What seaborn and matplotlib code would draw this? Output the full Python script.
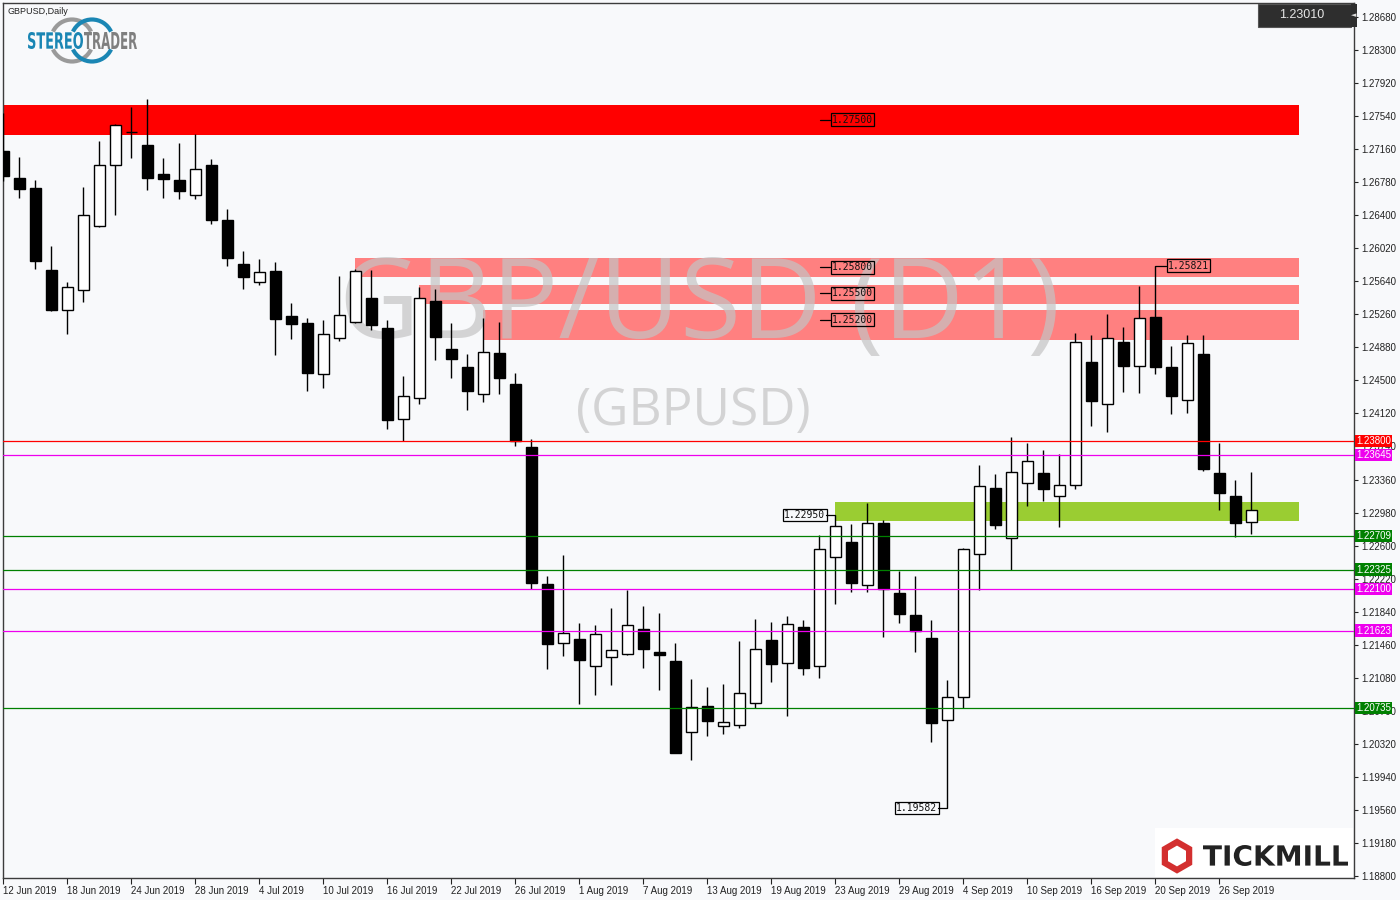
import numpy as np
import pandas as pd
import matplotlib
matplotlib.use("Agg")
import matplotlib.pyplot as plt
import matplotlib.transforms as mtransforms
from matplotlib.patches import Rectangle, Arc, RegularPolygon, PathPatch
from matplotlib.textpath import TextPath
from matplotlib.font_manager import FontProperties
import seaborn as sns

# GBPUSD daily candles, 12 Jun 2019 .. 30 Sep 2019
first_day = "2019-06-12"
opens = [1.27139, 1.26825, 1.26710, 1.25767, 1.25307, 1.25537, 1.26273, 1.26975, 1.27363, 1.27208,
         1.26874, 1.26805, 1.26630, 1.26975, 1.26345, 1.25840, 1.25636, 1.25759, 1.25241, 1.25161,
         1.24571, 1.24985, 1.25169, 1.25445, 1.25100, 1.24054, 1.24295, 1.25414, 1.24862, 1.24655,
         1.24341, 1.24816, 1.24459, 1.23738, 1.22159, 1.21478, 1.21527, 1.21220, 1.21323, 1.21358,
         1.21642, 1.21377, 1.21274, 1.20454, 1.20756, 1.20523, 1.20535, 1.20794, 1.21515, 1.21254,
         1.21665, 1.21213, 1.22467, 1.22642, 1.22145, 1.22861, 1.22056, 1.21803, 1.21538, 1.20592,
         1.20857, 1.22501, 1.23263, 1.22688, 1.23324, 1.23436, 1.23168, 1.23295, 1.24709, 1.24226,
         1.24939, 1.24663, 1.25227, 1.24652, 1.24272, 1.24801, 1.23433, 1.23168, 1.22876]
highs = [1.27576, 1.27070, 1.26805, 1.26046, 1.25632, 1.26725, 1.27254, 1.27450, 1.27642, 1.27737,
         1.27058, 1.27231, 1.27334, 1.27044, 1.26472, 1.25989, 1.25897, 1.25862, 1.25391, 1.25218,
         1.25195, 1.25701, 1.25779, 1.25770, 1.25195, 1.24551, 1.25578, 1.25552, 1.25161, 1.24804,
         1.25218, 1.25172, 1.24586, 1.23827, 1.22251, 1.22493, 1.21714, 1.21688, 1.21883, 1.22094,
         1.21906, 1.21826, 1.21481, 1.21070, 1.20975, 1.21009, 1.21507, 1.21757, 1.21722, 1.21795,
         1.21742, 1.22720, 1.22950, 1.22849, 1.23091, 1.22895, 1.22312, 1.22251, 1.21745, 1.21055,
         1.22573, 1.23528, 1.23424, 1.23850, 1.23784, 1.23700, 1.23654, 1.25046, 1.25023, 1.25264,
         1.25115, 1.25586, 1.25821, 1.24893, 1.25023, 1.25023, 1.23784, 1.23359, 1.23447]
lows = [1.26794, 1.26602, 1.25785, 1.25302, 1.25038, 1.25406, 1.26265, 1.26406, 1.27062, 1.26694,
        1.26602, 1.26590, 1.26590, 1.26303, 1.25820, 1.25555, 1.25601, 1.24796, 1.24980, 1.24382,
        1.24417, 1.24957, 1.25160, 1.25080, 1.23945, 1.23804, 1.24226, 1.24739, 1.24532, 1.24164,
        1.24256, 1.24348, 1.23741, 1.22102, 1.21185, 1.21335, 1.20783, 1.20886, 1.21001, 1.21346,
        1.21197, 1.20944, 1.20210, 1.20139, 1.20415, 1.20438, 1.20500, 1.20737, 1.21036, 1.20638,
        1.21116, 1.21082, 1.21933, 1.22071, 1.22071, 1.21553, 1.21714, 1.21381, 1.20346, 1.19582,
        1.20730, 1.22087, 1.22789, 1.22320, 1.23060, 1.23117, 1.22818, 1.23255, 1.23980, 1.23911,
        1.24371, 1.24359, 1.24578, 1.24118, 1.24129, 1.23462, 1.23014, 1.22703, 1.22738]
closes = [1.26855, 1.26705, 1.25877, 1.25310, 1.25572, 1.26400, 1.26975, 1.27435, 1.27352, 1.26832,
          1.26820, 1.26682, 1.26929, 1.26349, 1.25912, 1.25693, 1.25744, 1.25210, 1.25153, 1.24589,
          1.25031, 1.25250, 1.25756, 1.25141, 1.24049, 1.24321, 1.25445, 1.25003, 1.24750, 1.24382,
          1.24824, 1.24532, 1.23807, 1.22174, 1.21473, 1.21596, 1.21289, 1.21584, 1.21400, 1.21688,
          1.21412, 1.21340, 1.20219, 1.20745, 1.20587, 1.20572, 1.20903, 1.21409, 1.21243, 1.21696,
          1.21197, 1.22559, 1.22823, 1.22174, 1.22858, 1.22105, 1.21818, 1.21619, 1.20564, 1.20857,
          1.22559, 1.23283, 1.22841, 1.23444, 1.23570, 1.23255, 1.23295, 1.24939, 1.24267, 1.24985,
          1.24670, 1.25215, 1.24658, 1.24325, 1.24928, 1.23485, 1.23209, 1.22864, 1.23010]

# zones (price ranges) and the candle index where they start / end
strong_zone = [1.27323, 1.27668]
weak_zone_low = [1.25693, 1.25383, 1.24961]
weak_zone_high = [1.25908, 1.25598, 1.25314]
weak_zone_from = [22, 26, 30]
weak_zone_labels = [1.25800, 1.25500, 1.25200]
strong_zone_label = 1.27500
support_zone = [1.22884, 1.23100]
support_zone_from = 52
zone_end = 81

level_prices = [1.23800, 1.23645, 1.22709, 1.22325, 1.22100, 1.21623, 1.20735]
level_colors = ["#ff0000", "#ee00ee", "#008000", "#008000", "#ee00ee", "#ee00ee", "#008000"]

y_ticks = [1.28680, 1.28300, 1.27920, 1.27540, 1.27160, 1.26780, 1.26400, 1.26020, 1.25640,
           1.25260, 1.24880, 1.24500, 1.24120, 1.23740, 1.23360, 1.22980, 1.22600, 1.22220,
           1.21840, 1.21460, 1.21080, 1.20700, 1.20320, 1.19940, 1.19560, 1.19180, 1.18800]
last_price = 1.23010

sns.set_style("white")
plt.rcParams["font.family"] = ["Liberation Sans", "DejaVu Sans"]

bg = "#f8f9fb"
W, H = 1400, 900

df = pd.DataFrame({
    "date": pd.bdate_range(first_day, periods=len(opens)),
    "open": opens, "high": highs, "low": lows, "close": closes,
})
df["pos"] = np.arange(len(df))
df["up"] = df["close"] > df["open"]

fig = plt.figure(figsize=(14, 9), dpi=100, facecolor=bg)
ax = fig.add_axes([3 / W, 1 - 878 / H, 1351 / W, 875 / H])
ax.set_facecolor(bg)
ax.set_xlim(-0.02, 84.42)
ax.set_ylim(1.18777, 1.28841)

# zones
ax.fill_between([-1, zone_end], strong_zone[0], strong_zone[1], color="#ff0000", lw=0, zorder=1)
for lo, hi, x0 in zip(weak_zone_low, weak_zone_high, weak_zone_from):
    ax.fill_between([x0, zone_end], lo, hi, color="#ff8080", lw=0, zorder=1)
ax.fill_between([support_zone_from, zone_end], support_zone[0], support_zone[1],
                color="#9acd32", lw=0, zorder=1)

# watermark
ax.text(700 / W, 1 - 338 / H, "GBP/USD (D1)", transform=fig.transFigure, ha="center",
        va="baseline", fontsize=80, family="Open Sans", color="#c4c4c4", alpha=0.7, zorder=1.5)
ax.text(693 / W, 1 - 425 / H, "(GBPUSD)", transform=fig.transFigure, ha="center",
        va="baseline", fontsize=37, family="Open Sans", color="#c4c4c4", alpha=0.7, zorder=1.5)

# candles
ax.vlines(df["pos"], df["low"], df["high"], color="black", lw=1.0, zorder=3)
body = (df["close"] - df["open"]).abs().clip(lower=0.00006)
ax.bar(df["pos"], body, bottom=df[["open", "close"]].min(axis=1), width=0.66,
       color=np.where(df["up"], "white", "black"), edgecolor="black", linewidth=1.0, zorder=4)

# horizontal levels and axis tags
tag_tr = mtransforms.blended_transform_factory(ax.transAxes, ax.transData)
for p, c in zip(level_prices, level_colors):
    ax.axhline(p, color=c, lw=0.9, zorder=5)
    ax.text(1.0015, p, f"{p:.5f}", transform=tag_tr, ha="left", va="center", fontsize=7,
            color="white", zorder=10, clip_on=False,
            bbox=dict(boxstyle="square,pad=0.12", fc=c, ec="none"))


def price_box(x, y, text, ha):
    ax.text(x, y, text, ha=ha, va="center", fontsize=7, family="DejaVu Sans Mono", zorder=7,
            color="#111111", bbox=dict(boxstyle="square,pad=0.12", fc="none", ec="black", lw=0.9))


def leader(x0, x1, y):
    ax.plot([x0, x1], [y, y], color="black", lw=0.9, zorder=6)


for p in [strong_zone_label] + weak_zone_labels:
    leader(51.05, 51.7, p)
    price_box(51.78, p, f"{p:.5f}", "left")

leader(51.45, 52, highs[52])
price_box(51.38, highs[52], f"{highs[52]:.5f}", "right")
leader(58.45, 59, lows[59])
price_box(58.38, lows[59], f"{lows[59]:.5f}", "right")
leader(72, 72.7, highs[72])
price_box(72.78, highs[72], f"{highs[72]:.5f}", "left")

# axes styling
ax.yaxis.tick_right()
ax.set_yticks(y_ticks)
ax.set_yticklabels([f"{t:.5f}" for t in y_ticks])
ticks = df.iloc[::4]
ax.set_xticks(ticks["pos"])
ax.set_xticklabels([f"{d.day} {d:%b %Y}" for d in ticks["date"]])
for lab in ax.get_xticklabels():
    lab.set_ha("left")
ax.tick_params(axis="y", direction="out", length=3, width=0.8, labelsize=7, pad=2,
               colors="#222222", right=True)
ax.tick_params(axis="x", direction="out", length=4, width=0.8, labelsize=7, pad=2,
               colors="#222222", bottom=True)
for s in ax.spines.values():
    s.set_color("#3c3c3c")
    s.set_linewidth(1.0)

# header text and widget
fig.text(7 / W, 1 - 11 / H, "GBPUSD,Daily", fontsize=6.5, va="center", color="#222222")
ident = mtransforms.IdentityTransform()
fig.add_artist(Rectangle((1258, H - 27), 93, 23, fc="#2e2e2e", ec="#555555", lw=0.8,
                         transform=ident))
fig.add_artist(Rectangle((1351, H - 27), 6, 23, fc="#2e2e2e", ec="none", transform=ident))
fig.text(1302 / W, 1 - 15 / H, f"{last_price:.5f}", fontsize=9, ha="center", va="center",
         color="#e6e6e6")
fig.text(1354 / W, 1 - 15 / H, "\u25c4", fontsize=5, ha="center", va="center",
         color="#dddddd", family=["DejaVu Sans"])


def fitted_text(s, x0, x1, ytop, ybot, color):
    tp = TextPath((0, 0), s, size=100, prop=FontProperties(family="DejaVu Sans", weight="bold"))
    bb = tp.get_extents()
    tr = (mtransforms.Affine2D().translate(-bb.x0, -bb.y0)
          .scale((x1 - x0) / bb.width, (ybot - ytop) / bb.height).translate(x0, H - ybot))
    fig.add_artist(PathPatch(tr.transform_path(tp), fc=color, ec="none", transform=ident))


# STEREOTRADER logo
for cx, col in [(72, "#9a9a9a"), (92, "#1a86b4")]:
    fig.add_artist(Arc((cx, H - 40.5), 42, 42, theta1=25, theta2=155, lw=3, color=col,
                       transform=ident))
    fig.add_artist(Arc((cx, H - 40.5), 42, 42, theta1=205, theta2=335, lw=3, color=col,
                       transform=ident))
fitted_text("STEREO", 28, 83, 32, 49, "#1a86b4")
fitted_text("TRADER", 84, 137, 32, 49, "#7f7f7f")

# TICKMILL logo
fig.add_artist(Rectangle((1155, H - 877), 198, 49, fc="white", ec="none", transform=ident))
fig.add_artist(RegularPolygon((1177, H - 856), 6, radius=14, fc="none", ec="#d32f2f", lw=4.5,
                              transform=ident))
fitted_text("TICKMILL", 1203, 1348, 845, 866, "#222222")

fig.savefig("out.png", dpi=100, facecolor=bg)
